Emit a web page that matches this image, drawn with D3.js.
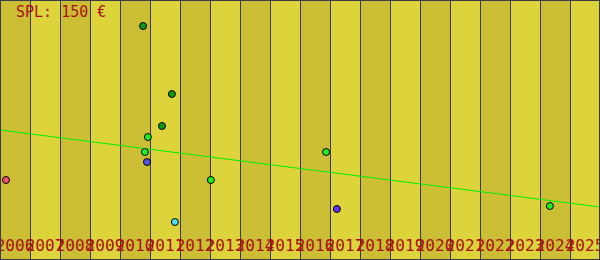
<!DOCTYPE html>
<meta charset="utf-8">
<style>
  body { margin: 0; }
  text { font-family: "DejaVu Sans Mono", monospace; }
</style>
<body>
<script src="https://cdn.jsdelivr.net/npm/d3@7"></script>
<script>

var width = 600,
    height = 260;

var years = [2006, 2007, 2008, 2009, 2010, 2011, 2012, 2013, 2014, 2015,
             2016, 2017, 2018, 2019, 2020, 2021, 2022, 2023, 2024, 2025];

// point positions: fractional year, price value
var pointYears  = [2010.77, 2011.73, 2011.4, 2010.93, 2010.83, 2010.9, 2011.83, 2013.03, 2016.87, 2017.23, 2024.33, 2006.2];
var pointValues = [234,     166,     134,    123,     108,     98,      38,      80,      108,     51,      54,      80];
var pointColors = ["#119911", "#119911", "#119911", "#22ee22", "#22ee22", "#5555ee",
                   "#55ddee", "#22ee22", "#22ee22", "#6633ee", "#22ee22", "#ee5566"];

var trendYears  = [2006, 2026],
    trendValues = [130, 53];

var label = "SPL: 150 €";

var x = d3.scaleLinear()
    .domain([2006, 2026])
    .range([0, width]);

var y = d3.scaleLinear()
    .domain([0, 260])
    .range([height, 0]);

var svg = d3.select("body").append("svg")
    .attr("width", width)
    .attr("height", height);

// year stripes
svg.selectAll(".stripe")
    .data(years)
    .enter()
    .append("rect")
    .attr("class", "stripe")
    .attr("x", d => x(d))
    .attr("y", 0)
    .attr("width", d => x(d + 1) - x(d))
    .attr("height", height)
    .attr("fill", (d, i) => i % 2 == 0 ? "#cbbe34" : "#ddd43c");

svg.selectAll(".grid")
    .data(years)
    .enter()
    .append("line")
    .attr("class", "grid")
    .attr("x1", d => x(d) + 0.5)
    .attr("x2", d => x(d) + 0.5)
    .attr("y1", 0)
    .attr("y2", height)
    .attr("stroke", "#3a3a4a")
    .attr("stroke-width", 1);

// year labels
svg.selectAll(".year")
    .data(years)
    .enter()
    .append("text")
    .attr("class", "year")
    .attr("x", d => x(d + 0.5))
    .attr("y", 251)
    .attr("text-anchor", "middle")
    .attr("font-size", 16)
    .attr("fill", "#aa1111")
    .text(d => d);

// trend line
var line = d3.line()
    .x(d => x(d[0]))
    .y(d => y(d[1]));

svg.append("path")
    .datum(d3.zip(trendYears, trendValues))
    .attr("d", line)
    .attr("fill", "none")
    .attr("stroke", "#00ee00")
    .attr("stroke-width", 1);

svg.selectAll(".pt")
    .data(d3.zip(pointYears, pointValues, pointColors))
    .enter()
    .append("circle")
    .attr("class", "pt")
    .attr("cx", d => x(d[0]))
    .attr("cy", d => y(d[1]))
    .attr("r", 3.5)
    .attr("fill", d => d[2])
    .attr("stroke", "#000")
    .attr("stroke-width", 1);

svg.append("text")
    .attr("x", 16)
    .attr("y", 17)
    .attr("font-size", 15)
    .attr("fill", "#aa1111")
    .text(label);

// border
svg.append("rect")
    .attr("x", 0.5)
    .attr("y", 0.5)
    .attr("width", width - 1)
    .attr("height", height - 1)
    .attr("fill", "none")
    .attr("stroke", "#3a3a4a");

</script>
